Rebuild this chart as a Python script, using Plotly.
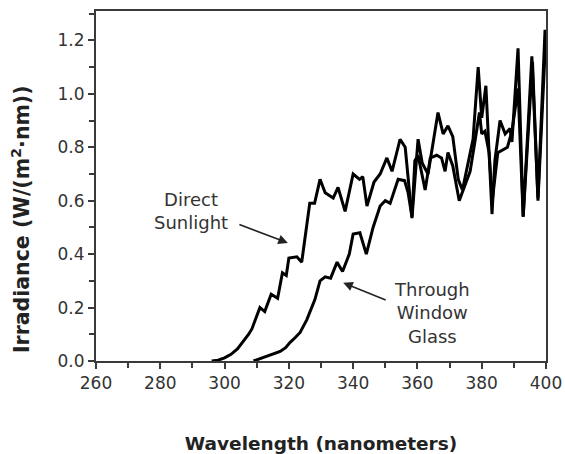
import plotly.graph_objects as go

direct_wl = [296, 298, 300, 302, 304, 306, 307.5, 308.5, 310, 311, 312.5, 314.5, 316.5, 318, 319.2, 320,
             322.5, 324, 326.5, 328, 329.7, 331.3, 333.8, 335.3, 337.5, 340, 342, 343, 344.3, 346.5, 348.4,
             350.5, 352.1, 354.6, 356.2, 358.3, 360.2, 361.5, 363.3, 366.4, 368, 369.5, 371, 372.7, 374,
             377.3, 378.9, 380, 381.3, 383.2, 384.1, 385.7, 387.3, 388.8, 389.4, 391.3, 392.9, 395.6, 397.5, 399.7]
direct_irr = [0.0, 0.003, 0.012, 0.025, 0.045, 0.075, 0.10, 0.12, 0.17, 0.20, 0.185, 0.25, 0.235, 0.33, 0.32,
              0.385, 0.39, 0.37, 0.59, 0.59, 0.68, 0.63, 0.61, 0.65, 0.56, 0.70, 0.68, 0.69, 0.58, 0.67, 0.70,
              0.76, 0.71, 0.83, 0.80, 0.535, 0.83, 0.74, 0.70, 0.93, 0.85, 0.88, 0.84, 0.68, 0.64,
              0.83, 1.10, 0.91, 1.03, 0.55, 0.75, 0.90, 0.85, 0.87, 0.82, 1.17, 0.54, 1.14, 0.61, 1.24]

glass_wl = [309, 311, 313.2, 315.5, 317.3, 319, 320.4, 322, 323.5, 325.6, 328.1, 329.7, 331.3, 333, 335, 336.7,
            338.8, 340, 342.1, 344.1, 346.2, 348.4, 350, 351.5, 354, 356, 357.1, 358.3, 359.2, 360.2, 362.4,
            364, 366, 367.5, 368.6, 369.5, 371, 373, 376.4, 378, 379.3, 380, 381, 382.3, 383.3, 385, 388,
            389.4, 391.3, 392.9, 395.8, 397.5, 400]
glass_irr = [0.0, 0.008, 0.017, 0.026, 0.036, 0.05, 0.07, 0.088, 0.107, 0.155, 0.23, 0.30, 0.315, 0.31, 0.37,
             0.335, 0.40, 0.475, 0.48, 0.40, 0.50, 0.58, 0.60, 0.59, 0.68, 0.675, 0.63, 0.54, 0.75, 0.77,
             0.64, 0.76, 0.77, 0.76, 0.71, 0.78, 0.73, 0.60, 0.71, 0.83, 0.93, 0.85, 0.86, 0.78, 0.60, 0.78,
             0.80, 0.86, 1.02, 0.54, 1.12, 0.60, 1.23]

x_ticks = [260, 280, 300, 320, 340, 360, 380, 400]
y_ticks = [0.0, 0.2, 0.4, 0.6, 0.8, 1.0, 1.2]

FONT = "DejaVu Sans"
AX = "#3a3a3a"

fig = go.Figure()
fig.add_trace(go.Scatter(x=direct_wl, y=direct_irr, mode="lines",
                         line=dict(color="black", width=3), name="Direct Sunlight"))
fig.add_trace(go.Scatter(x=glass_wl, y=glass_irr, mode="lines",
                         line=dict(color="black", width=3), name="Through Window Glass"))

axis_common = dict(showgrid=False, zeroline=False, showline=True, linecolor=AX, linewidth=2,
                   mirror=True, ticks="outside", ticklen=6, tickwidth=1.5, tickcolor=AX,
                   automargin=False, tickfont=dict(family=FONT, size=17, color="#333"))

fig.update_xaxes(range=[260, 400], tickvals=x_ticks, ticktext=[str(v) for v in x_ticks],
                 minor=dict(dtick=10, ticks="outside", ticklen=5, tickwidth=1.5, tickcolor=AX),
                 title=dict(text="<b>Wavelength (nanometers)</b>", font=dict(family=FONT, size=18.5, color="#222"),
                            standoff=45),
                 **axis_common)
fig.update_yaxes(range=[0, 1.31], tickvals=y_ticks, ticktext=[f"{v:.1f}" for v in y_ticks],
                 minor=dict(dtick=0.1, ticks="outside", ticklen=5, tickwidth=1.5, tickcolor=AX),
                 **axis_common)

# y-axis title (placed lower than centre, as in the reference)
fig.add_annotation(xref="paper", yref="paper", x=-0.167, y=0.405, xanchor="center", yanchor="middle",
                   text="<b>Irradiance (W/(m<sup>2</sup>·nm))</b>", textangle=-90, showarrow=False,
                   font=dict(family=FONT, size=20.5, color="#222"))

fig.add_annotation(x=319.7, y=0.442, ax=-50, ay=-19, xref="x", yref="y",
                   text="", showarrow=True, arrowhead=2, arrowsize=1.2, arrowwidth=1.6, arrowcolor="#222")
fig.add_annotation(x=336.9, y=0.293, ax=44, ay=18, xref="x", yref="y",
                   text="", showarrow=True, arrowhead=2, arrowsize=1.2, arrowwidth=1.6, arrowcolor="#222")
fig.add_annotation(x=289.6, y=0.56, xref="x", yref="y", text="Direct<br>Sunlight", showarrow=False,
                   align="center", font=dict(family=FONT, size=18, color="#333"))
fig.add_annotation(x=364.5, y=0.181, xref="x", yref="y", text="Through<br>Window<br>Glass", showarrow=False,
                   align="center", font=dict(family=FONT, size=18, color="#333"))

fig.update_layout(width=565, height=454, margin=dict(l=96, r=19, t=11, b=93),
                  paper_bgcolor="white", plot_bgcolor="white", showlegend=False)

fig.write_html("out.html", config={"displayModeBar": False},
               post_script="document.body.style.margin='0';document.body.style.overflow='hidden';")
